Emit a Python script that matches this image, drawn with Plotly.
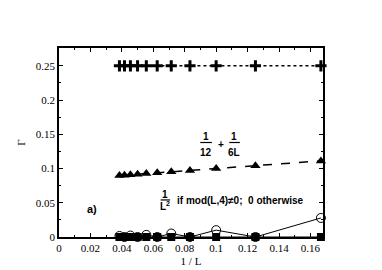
import plotly.graph_objects as go

L_vals = [26, 24, 22, 20, 18, 16, 14, 12, 10, 8, 6]
inv_L = [0.03846, 0.04167, 0.04545, 0.05, 0.05556, 0.0625, 0.07143, 0.08333, 0.1, 0.125, 0.16667]
gamma_plus = [0.25, 0.25, 0.25, 0.25, 0.25, 0.25, 0.25, 0.25, 0.25, 0.25, 0.25]
gamma_tri = [0.0897, 0.0903, 0.0909, 0.0917, 0.0926, 0.0938, 0.0952, 0.0972, 0.1, 0.1042, 0.1111]
gamma_circ = [0.0015, 0.0, 0.0021, 0.0, 0.0031, 0.0, 0.0051, 0.0, 0.01, 0.0, 0.0278]
gamma_sq = [0.0, 0.0, 0.0, 0.0, 0.0, 0.0, 0.0, 0.0, 0.0, 0.0, 0.0]

x_ticks = [0, 0.02, 0.04, 0.06, 0.08, 0.1, 0.12, 0.14, 0.16]
y_ticks = [0, 0.05, 0.1, 0.15, 0.2, 0.25]

fig = go.Figure()
fig.add_trace(go.Scatter(x=inv_L, y=gamma_plus, mode="lines+markers", cliponaxis=False,
                         line=dict(color="black", width=1.5, dash="dot"),
                         marker=dict(symbol="cross-thin", size=8, line=dict(color="black", width=3))))
fig.add_trace(go.Scatter(x=inv_L, y=gamma_tri, mode="lines+markers", cliponaxis=False,
                         line=dict(color="black", width=1.5, dash="dash"),
                         marker=dict(symbol="triangle-up", size=9, color="black")))
fig.add_trace(go.Scatter(x=inv_L, y=gamma_circ, mode="lines+markers", cliponaxis=False,
                         line=dict(color="black", width=1),
                         marker=dict(symbol="circle-open", size=9, color="black", line=dict(width=1))))
fig.add_trace(go.Scatter(x=inv_L, y=gamma_sq, mode="lines+markers", cliponaxis=False,
                         line=dict(color="black", width=1),
                         marker=dict(symbol="square", size=8, color="black")))

axis_font = dict(family="Liberation Serif", size=11, color="black")
fig.update_xaxes(range=[0, 0.168], tickvals=x_ticks, ticktext=[str(v) for v in x_ticks],
                 ticks="inside", ticklen=4, tickcolor="black", showline=True, linecolor="black",
                 linewidth=1.5, mirror="ticks", showgrid=False, zeroline=False, tickfont=axis_font,
                 minor=dict(ticks="inside", ticklen=2, dtick=0.01, tickcolor="black"),
                 title=dict(text="1 / L", font=axis_font, standoff=4))
fig.update_yaxes(range=[0, 0.276], tickvals=y_ticks, ticktext=["0", "0.05", "0.1", "0.15", "0.2", "0.25"],
                 ticks="inside", ticklen=4, tickcolor="black", showline=True, linecolor="black",
                 linewidth=1.5, mirror="ticks", showgrid=False, zeroline=False, tickfont=axis_font,
                 minor=dict(ticks="inside", ticklen=2, dtick=0.025, tickcolor="black"),
                 title=dict(text="Γ", font=axis_font, standoff=8))

def ann(x, y, t, xa="center", size=10):
    fig.add_annotation(x=x, y=y, xref="paper", yref="paper", text=t, showarrow=False,
                       xanchor=xa, yanchor="middle", font=dict(family="Liberation Sans", size=size, color="black"))
def bar(x0, x1, y):
    fig.add_shape(type="line", xref="paper", yref="paper", x0=x0, x1=x1, y0=y, y1=y,
                  line=dict(color="black", width=1.2))

ann(0.1245, 0.148, "<b>a)</b>", size=11)
ann(0.557, 0.531, "<b>1</b>")
bar(0.535, 0.579, 0.500)
ann(0.557, 0.449, "<b>12</b>")
ann(0.612, 0.49, "<b>+</b>")
ann(0.663, 0.531, "<b>1</b>")
bar(0.645, 0.685, 0.500)
ann(0.663, 0.449, "<b>6L</b>")
ann(0.403, 0.224, "<b>1</b>")
bar(0.385, 0.421, 0.196)
ann(0.403, 0.163, "<b>L<sup>2</sup></b>")
ann(0.44, 0.194, "<b>if mod(L,4)≠0;  0 otherwise</b>", xa="left")

fig.update_layout(width=382, height=270, margin=dict(l=42, r=67, t=40, b=34),
                  paper_bgcolor="white", plot_bgcolor="white", showlegend=False)
fig.write_html("out.html")
